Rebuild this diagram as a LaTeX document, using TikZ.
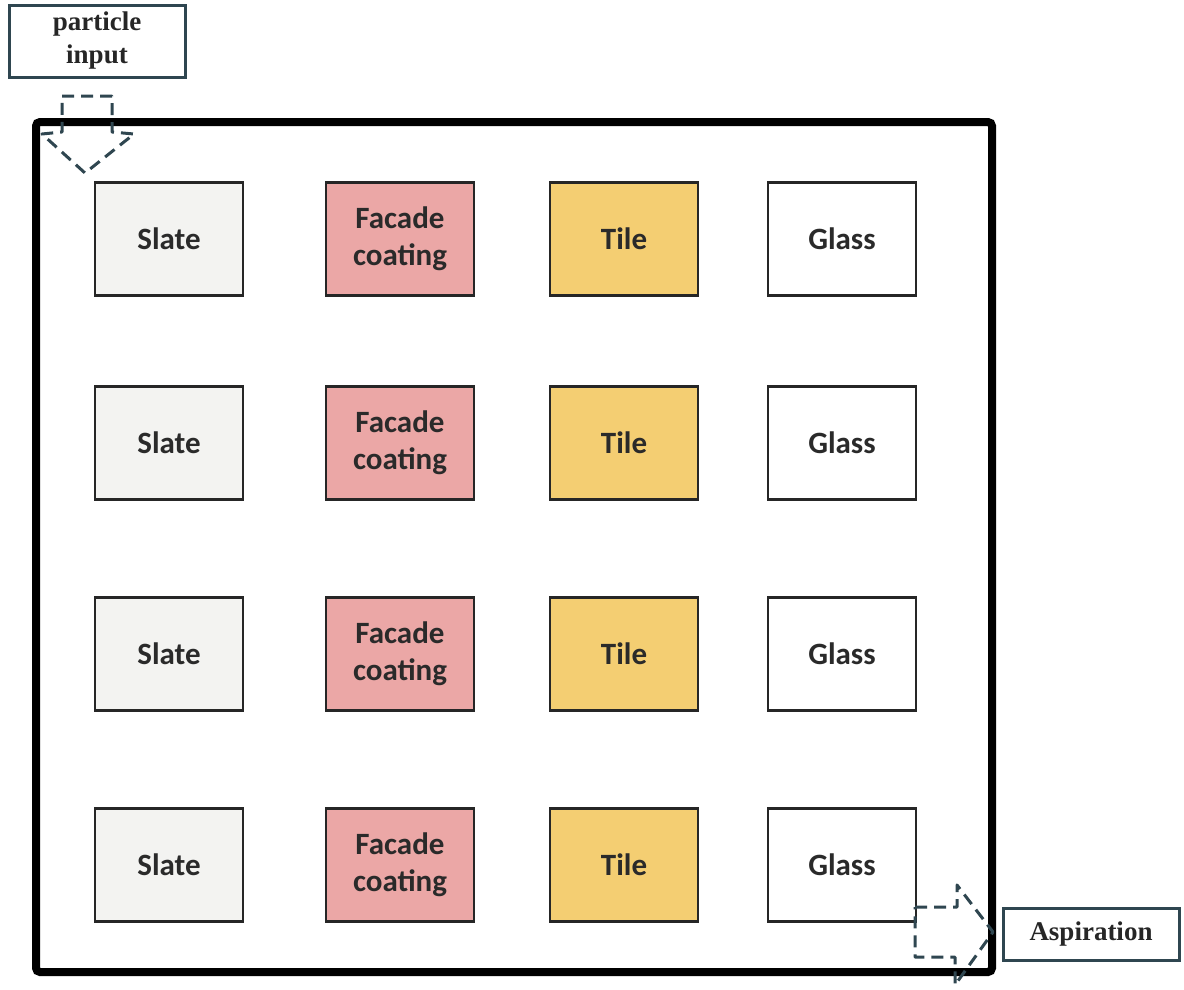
\documentclass[tikz,border=0pt]{standalone}
\usepackage{fontspec}
\setmainfont{Liberation Serif}
\newfontfamily\calib{Carlito}
\definecolor{slatec}{HTML}{F3F3F1}
\definecolor{facadec}{HTML}{EBA7A6}
\definecolor{tilec}{HTML}{F4CE72}
\definecolor{glassc}{HTML}{FFFFFF}
\definecolor{boxedge}{HTML}{2F4650}
\definecolor{txt}{HTML}{2A2A2A}
\tikzset{
  tilebox/.style={draw=black!85, line width=2.2pt, minimum width=148pt, minimum height=113pt,
    align=center, inner sep=0pt, font=\calib\bfseries\fontsize{31}{37}\selectfont, text=txt},
  labelbox/.style={draw=boxedge, line width=3pt, align=center, inner sep=0pt, text=black!85,
    font=\bfseries\fontsize{27}{33}\selectfont},
  flowarrow/.style={draw=boxedge, line width=3pt, dash pattern=on 12pt off 7pt, line join=round},
  frame/.style={draw=black, line width=8pt, rounded corners=4pt}
}
\begin{document}
\begin{tikzpicture}[x=1pt,y=-1pt]
\useasboundingbox (0,0) rectangle (1184,989);
\fill[white] (0,0) rectangle (1184,989);
% chamber frame
\draw[frame] (36,122) rectangle (992,972);
% label boxes
\node[labelbox, minimum width=176pt, minimum height=72pt] (input) at (97,41) {particle\\input};
\node[labelbox, minimum width=176pt, minimum height=52pt] (asp) at (1091,934) {Aspiration};
% tiles
\foreach \r/\y in {1/239, 2/443, 3/654, 4/865}{
  \node[tilebox, fill=slatec] (s\r) at (169,\y) {Slate};
  \node[tilebox, fill=facadec] (f\r) at (400,\y) {Facade\\coating};
  \node[tilebox, fill=tilec] (t\r) at (624,\y) {Tile};
  \node[tilebox, fill=glassc] (g\r) at (842,\y) {Glass};
}
% inlet dashed block arrow
\draw[flowarrow] (62,96) -- (112,96) -- (112,132) -- (134,134) -- (85,173) -- (42,134) -- (62,132) -- cycle;
% outlet dashed block arrow
\draw[flowarrow] (915,907) -- (957,907) -- (957,885) -- (993,932) -- (955,985) -- (955,957) -- (915,957) -- cycle;
\end{tikzpicture}
\end{document}
